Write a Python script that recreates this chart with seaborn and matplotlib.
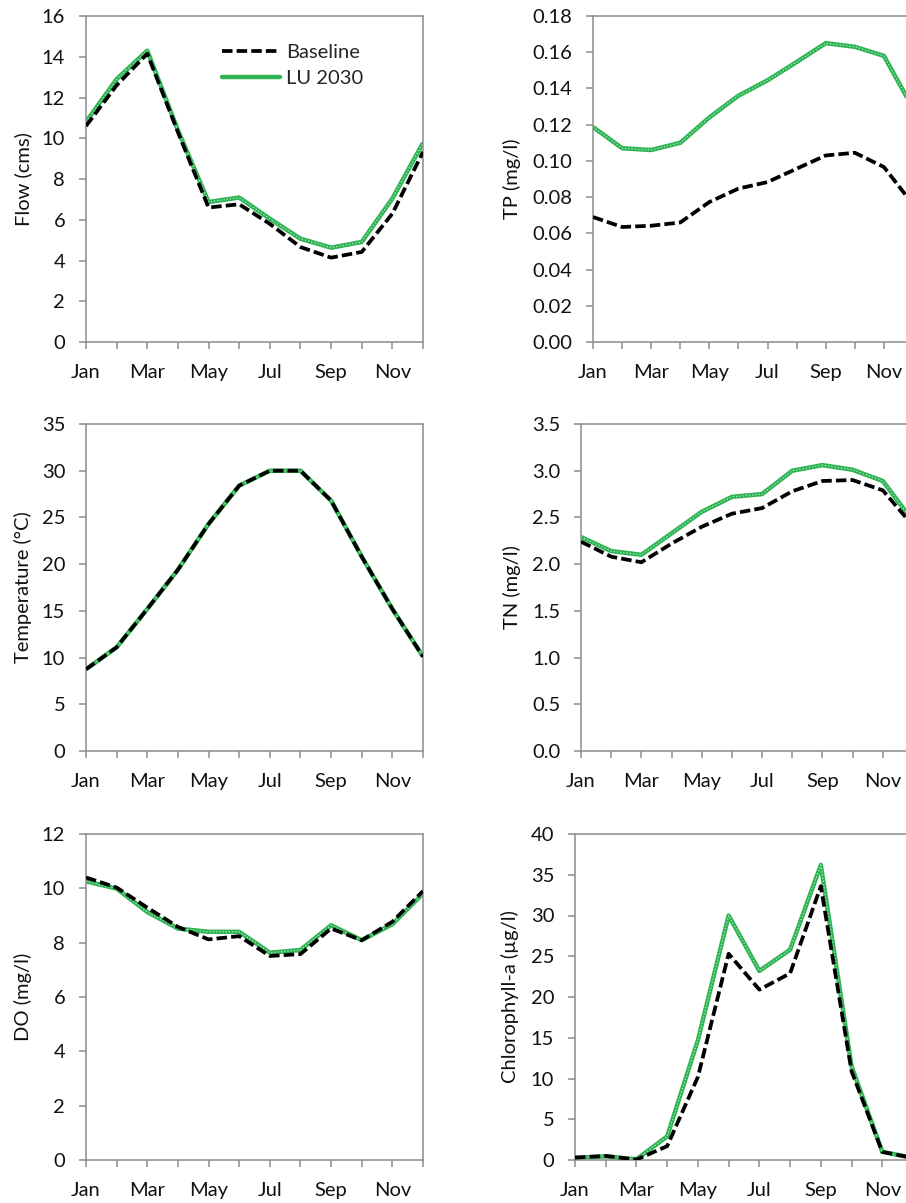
import numpy as np
import pandas as pd
import matplotlib
matplotlib.use("Agg")
import matplotlib.pyplot as plt
import seaborn as sns
from matplotlib.lines import Line2D

months = ["Jan", "Feb", "Mar", "Apr", "May", "Jun", "Jul", "Aug", "Sep", "Oct", "Nov", "Dec"]
tick_labels = ["Jan", "", "Mar", "", "May", "", "Jul", "", "Sep", "", "Nov", ""]

flow_base = [10.6, 12.6, 14.15, 10.3, 6.6, 6.76, 5.8, 4.66, 4.14, 4.42, 6.3, 9.33]
flow_lu = [10.8, 12.9, 14.3, 10.4, 6.87, 7.09, 6.05, 5.07, 4.63, 4.91, 7.04, 9.77]

tp_base = [0.069, 0.0635, 0.0642, 0.066, 0.0773, 0.0847, 0.0883, 0.0957, 0.103, 0.1045, 0.0966, 0.076]
tp_lu = [0.1187, 0.107, 0.106, 0.110, 0.124, 0.136, 0.1445, 0.1546, 0.165, 0.163, 0.158, 0.129]

temp_base = [8.75, 11.1, 15.2, 19.4, 24.3, 28.4, 30.0, 30.0, 26.8, 20.8, 15.2, 10.1]
temp_lu = [8.75, 11.1, 15.2, 19.4, 24.3, 28.4, 30.0, 30.0, 26.8, 20.8, 15.2, 10.1]

tn_base = [2.24, 2.08, 2.02, 2.22, 2.40, 2.54, 2.60, 2.78, 2.89, 2.90, 2.79, 2.41]
tn_lu = [2.29, 2.14, 2.10, 2.33, 2.56, 2.72, 2.75, 3.00, 3.06, 3.01, 2.89, 2.46]

do_base = [10.4, 10.03, 9.29, 8.58, 8.12, 8.24, 7.51, 7.58, 8.52, 8.09, 8.77, 9.9]
do_lu = [10.26, 9.99, 9.13, 8.52, 8.40, 8.40, 7.63, 7.73, 8.64, 8.09, 8.68, 9.81]

chl_base = [0.3, 0.5, 0.05, 1.7, 10.2, 25.3, 20.9, 22.9, 33.6, 10.9, 1.0, 0.25]
chl_lu = [0.25, 0.45, 0.08, 2.9, 14.7, 30.0, 23.2, 25.8, 36.2, 11.5, 1.0, 0.25]

series_names = ["Baseline", "LU 2030"]

sns.set_style("ticks")
plt.rcParams["font.family"] = ["Lato", "DejaVu Sans"]

W, H = 906, 1203
fig = plt.figure(figsize=(W / 100, H / 100), dpi=100)

GRAY = "#8c8c8c"
GREEN = "#2db352"
GREEN_LIGHT = "#b2ebc3"
FS = 14.5
BASE_LS = (0, (2.8, 1.1))

panels = [
    # (base, lu, ylabel, ymax, ystep, fmt, left, top, bottom, right, labelx)
    (flow_base, flow_lu, "Flow (cms)", 16, 2, "{:.0f}", 86, 16, 342, 423, 23),
    (tp_base, tp_lu, "TP (mg/l)", 0.18, 0.02, "{:.2f}", 593, 16, 342, 913, 512),
    (temp_base, temp_lu, "Temperature (°C)", 35, 5, "{:.0f}", 86, 424, 751, 423, 23),
    (tn_base, tn_lu, "TN (mg/l)", 3.5, 0.5, "{:.1f}", 581, 424, 751, 913, 512),
    (do_base, do_lu, "DO (mg/l)", 12, 2, "{:.0f}", 86, 834, 1160, 423, 23),
    (chl_base, chl_lu, "Chlorophyll-a (µg/l)", 40, 5, "{:.0f}", 575, 834, 1160, 913, 510),
]

axes = []
for base, lu, ylab, ymax, ystep, fmt, l, t, b, r, lx in panels:
    ax = fig.add_axes([l / W, 1 - b / H, (r - l) / W, (b - t) / H])
    axes.append(ax)
    df = pd.DataFrame({"month": np.arange(len(months)), "base": base, "lu": lu})
    sns.lineplot(data=df, x="month", y="lu", ax=ax, color=GREEN, linewidth=3.2,
                 solid_capstyle="butt", zorder=2)
    sns.lineplot(data=df, x="month", y="lu", ax=ax, color=GREEN_LIGHT, linewidth=0.9,
                 linestyle=(0, (1, 1.6)), zorder=2.5)
    sns.lineplot(data=df, x="month", y="base", ax=ax, color="black", linewidth=2.7,
                 linestyle=BASE_LS, zorder=3)
    ax.set_xlim(0, 11)
    ax.set_ylim(0, ymax)
    ax.set_xticks(np.arange(len(months)))
    ax.set_xticklabels(tick_labels)
    yt = np.arange(0, ymax + ystep / 2, ystep)
    ax.set_yticks(yt)
    ax.set_yticklabels([fmt.format(v) for v in yt])
    ax.set_xlabel("")
    ax.set_ylabel(ylab, fontsize=FS, va="center", color="#111111")
    ax.yaxis.set_label_coords((lx - l) / (r - l), 0.5)
    for s in ax.spines.values():
        s.set_color(GRAY)
        s.set_linewidth(1.1)
        s.set_visible(True)
    ax.tick_params(axis="both", direction="out", length=5, width=1.1, color=GRAY,
                   labelsize=FS, labelcolor="#111111")
    ax.tick_params(axis="y", pad=10)
    ax.tick_params(axis="x", pad=11)
    if ax.get_legend() is not None:
        ax.get_legend().remove()

handles = [
    Line2D([], [], color="black", linewidth=2.7, linestyle=BASE_LS),
    Line2D([], [], color=GREEN, linewidth=3.2),
]
ax0 = axes[0]
l, t, b, r = 86, 16, 342, 423
ax0.legend(handles, series_names, loc="upper left", frameon=False, fontsize=FS,
           handlelength=2.9, handletextpad=0.3, labelspacing=0.45, borderpad=0,
           borderaxespad=0,
           bbox_to_anchor=((222 - l) / (r - l), (b - 44) / (b - t)))

fig.savefig("out.png", dpi=100)
